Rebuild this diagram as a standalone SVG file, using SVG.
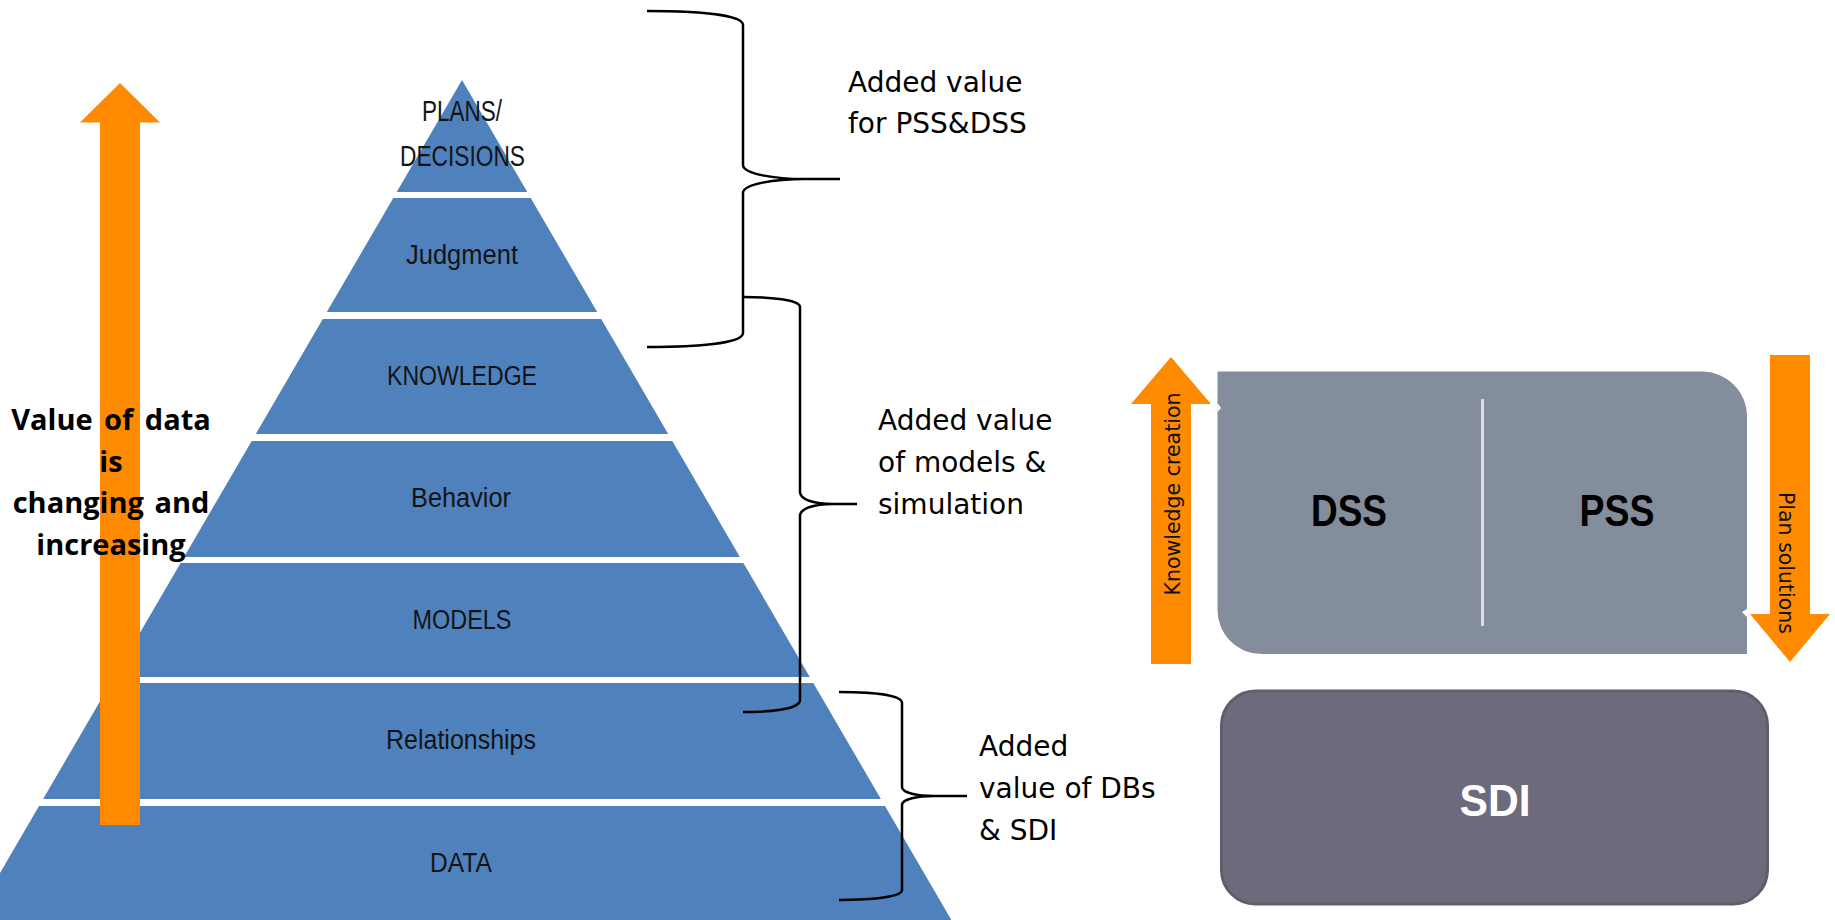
<svg xmlns="http://www.w3.org/2000/svg" width="1835" height="920" viewBox="0 0 1835 920">
<style>
.band{fill:#4f81bd}
.bt{font-family:"Liberation Sans",Arial,sans-serif;font-size:27px;fill:#141414;text-anchor:middle}
.bt2{font-family:"Liberation Sans",Arial,sans-serif;font-size:29px;fill:#141414;text-anchor:middle}
.orange{fill:#ff8a00}
.note{font-family:"DejaVu Sans",sans-serif;font-size:28px;fill:#000}
.side{font-family:"DejaVu Sans",sans-serif;font-size:20.5px;fill:#111;text-anchor:middle}
.bold{font-family:"Open Sans","Liberation Sans",sans-serif;font-weight:700;font-size:29px;fill:#000;text-anchor:middle}
.big{font-family:"Liberation Sans",Arial,sans-serif;font-weight:700;font-size:44px;text-anchor:middle}
.brace{fill:none;stroke:#000;stroke-width:2.5}
</style>
<rect width="1835" height="920" fill="#fff"/>

<g id="pyramid">
  <g id="band-plans">
    <polygon class="band" points="462,80 527.3,192 396.7,192"/>
    <text class="bt2" x="462" y="121" textLength="80" lengthAdjust="spacingAndGlyphs">PLANS/</text>
    <text class="bt2" x="462.5" y="166" textLength="125" lengthAdjust="spacingAndGlyphs">DECISIONS</text>
  </g>
  <g id="band-judgment">
    <polygon class="band" points="393.3,198 530.7,198 597.2,312 326.8,312"/>
    <text class="bt" x="462" y="264" textLength="112" lengthAdjust="spacingAndGlyphs">Judgment</text>
  </g>
  <g id="band-knowledge">
    <polygon class="band" points="322.8,319 601.2,319 668.2,434 255.8,434"/>
    <text class="bt" x="462" y="385" textLength="150" lengthAdjust="spacingAndGlyphs">KNOWLEDGE</text>
  </g>
  <g id="band-behavior">
    <polygon class="band" points="251.7,441 672.3,441 739.9,557 184.1,557"/>
    <text class="bt" x="461" y="507" textLength="100" lengthAdjust="spacingAndGlyphs">Behavior</text>
  </g>
  <g id="band-models">
    <polygon class="band" points="180.6,563 743.4,563 809.8,677 114.2,677"/>
    <text class="bt" x="462" y="629" textLength="99" lengthAdjust="spacingAndGlyphs">MODELS</text>
  </g>
  <g id="band-relationships">
    <polygon class="band" points="110.7,683 813.3,683 880.9,799 43.1,799"/>
    <text class="bt" x="461" y="749" textLength="150" lengthAdjust="spacingAndGlyphs">Relationships</text>
  </g>
  <g id="band-data">
    <polygon class="band" points="39,806 885,806 951.4,920 -27.4,920"/>
    <text class="bt" x="461" y="872" textLength="62" lengthAdjust="spacingAndGlyphs">DATA</text>
  </g>
</g>

<g id="value-arrow">
  <polygon class="orange" points="120,83 160,122.5 140,122.5 140,825 100,825 100,122.5 80,122.5"/>
  <text class="bold" x="111" y="430" word-spacing="4">Value of data</text>
  <text class="bold" x="111" y="472">is</text>
  <text class="bold" x="111" y="513" word-spacing="3">changing and</text>
  <text class="bold" x="111" y="555">increasing</text>
</g>

<g id="connectors">
  <path class="brace" d="M647,11 C700,11 743,15 743,25 L743,165 C743,174 775,179 805,179 C775,179 743,184 743,193 L743,333 C743,343 700,347 647,347 M805,179 L840,179"/>
  <path class="brace" d="M743,297 C778,297 800,301 800,307 L800,492 C800,500 815,504 833,504 C815,504 800,508 800,516 L800,700 C800,708 778,712 743,712 M833,504 L857,504"/>
  <path class="brace" d="M839,692 C878,692 902,696 902,703 L902,787 C902,793 918,796 934,796 C918,796 902,799 902,805 L902,890 C902,896 878,900 839,900 M934,796 L967,796"/>
</g>

<g id="label-pss-dss">
  <text class="note" x="848" y="92">Added value</text>
  <text class="note" x="848" y="133">for PSS&amp;DSS</text>
</g>
<g id="label-models">
  <text class="note" x="878" y="430">Added value</text>
  <text class="note" x="878" y="472">of models &amp;</text>
  <text class="note" x="878" y="514">simulation</text>
</g>
<g id="label-dbs">
  <text class="note" x="979" y="756">Added</text>
  <text class="note" x="979" y="798">value of DBs</text>
  <text class="note" x="979" y="840">&amp; SDI</text>
</g>

<g id="dss-pss">
  <path d="M1217.5,371.5 L1702,371.5 A45,45 0 0 1 1747,416.5 L1747,654 L1261.5,654 A44,44 0 0 1 1217.5,610 Z" fill="#848d9b"/>
  <polygon points="1217.5,403 1221,408 1217.5,412" fill="#fff"/>
  <polygon points="1747,609 1742,612 1747,617" fill="#fff"/>
  <line x1="1482.5" y1="399" x2="1482.5" y2="626" stroke="#d9dce0" stroke-width="3"/>
  <text class="big" x="1349" y="526" fill="#000" textLength="76" lengthAdjust="spacingAndGlyphs">DSS</text>
  <text class="big" x="1617" y="526" fill="#000" textLength="75" lengthAdjust="spacingAndGlyphs">PSS</text>
</g>

<g id="knowledge-creation">
  <polygon class="orange" points="1171,357 1211,404 1191,404 1191,664 1151,664 1151,404 1131,404"/>
  <text class="side" transform="translate(1180,494) rotate(-90)">Knowledge creation</text>
</g>

<g id="plan-solutions">
  <polygon class="orange" points="1770,355 1810,355 1810,614 1830,614 1790,662 1750,614 1770,614"/>
  <text class="side" transform="translate(1779,563) rotate(90)">Plan solutions</text>
</g>

<g id="sdi">
  <rect x="1221.5" y="691" width="546" height="213" rx="34" fill="#6d6a7b" stroke="#5d606c" stroke-width="3"/>
  <text class="big" x="1495" y="816" fill="#fff" textLength="71" lengthAdjust="spacingAndGlyphs">SDI</text>
</g>
</svg>
